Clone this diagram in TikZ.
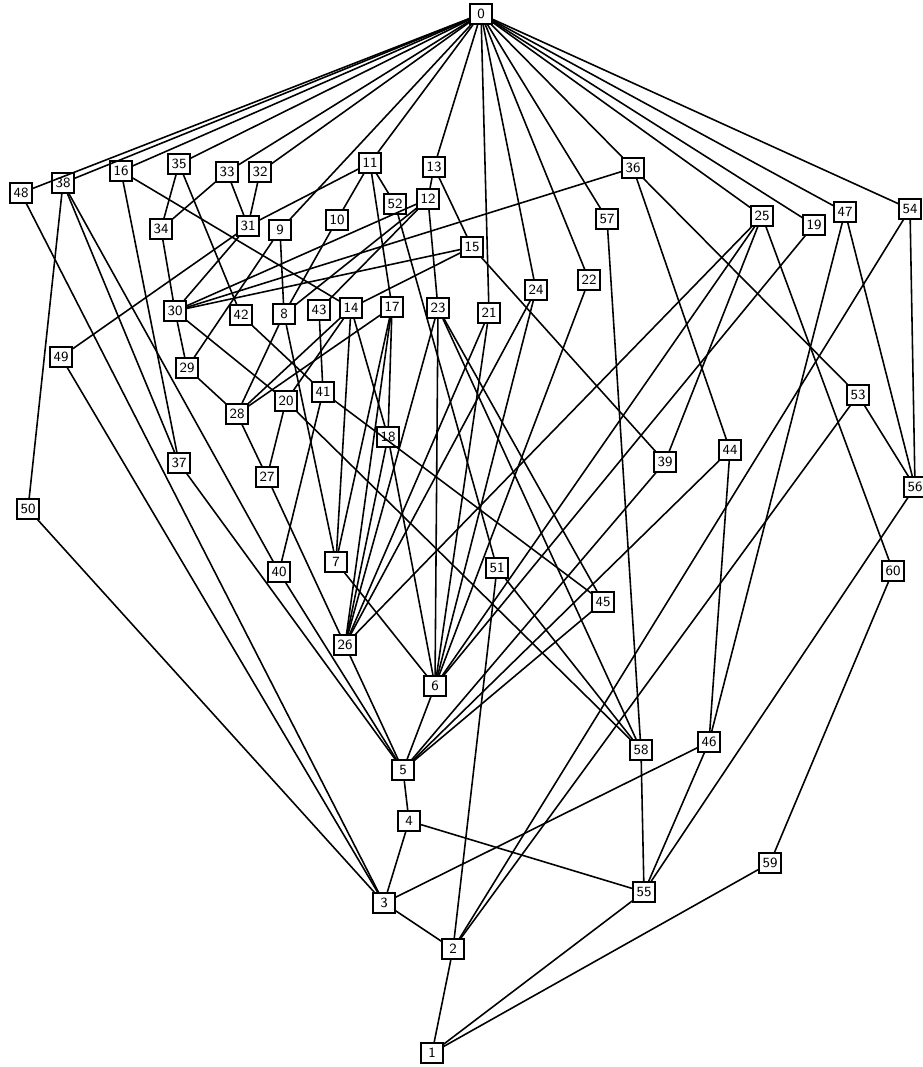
\documentclass[tikz,border=0pt]{standalone}
\usepackage{tikz}
\usetikzlibrary{positioning, arrows.meta}
\tikzset{
  elt/.style={draw, line width=1.1pt, fill=white, minimum width=0.43cm, minimum height=0.39cm,
    inner sep=1pt, font=\sffamily\footnotesize},
  cover/.style={line width=0.9pt},
}

\begin{document}
\begin{tikzpicture}[x=0.02cm, y=-0.02cm]
  \useasboundingbox (0,0) rectangle (922,1067);
  \foreach \n/\x/\y in {
      0/481/14,
      48/21/193, 38/63/183, 16/121/171, 35/179/164, 33/227/172, 32/260/172,
      11/370/163, 13/434/167, 12/428/199, 52/395/204, 36/633/168, 57/607/219,
      25/762/216, 19/814/225, 47/845/212, 54/910/209,
      34/161/229, 31/248/226, 9/280/230, 10/337/220, 15/472/247,
      24/536/290, 22/589/280, 21/489/313, 23/438/308, 17/392/307, 14/351/308,
      43/319/310, 8/284/314, 42/241/315, 30/175/311,
      49/61/357, 29/187/368, 28/237/414, 20/286/401, 41/323/392, 18/388/437,
      27/267/477, 37/179/463, 50/28/509, 39/665/462, 44/730/450, 53/858/395,
      56/915/487, 40/279/572, 7/336/562, 51/497/568, 45/603/602, 26/345/645,
      6/435/686, 60/893/571, 5/403/770, 58/641/750, 46/709/742,
      4/409/821, 3/384/903, 55/644/892, 59/770/863, 2/453/949, 1/432/1053}
    \node[elt] (e\n) at (\x,\y) {\n};
  % covering pairs, upper/lower
  \foreach \a/\b in {
      0/48, 0/38, 0/16, 0/35, 0/33, 0/32, 0/9, 0/11, 0/13, 0/21, 0/24, 0/22,
      0/57, 0/36, 0/25, 0/19, 0/47, 0/54,
      48/3, 38/50, 38/37, 38/40, 16/37, 16/14, 35/34, 35/42, 33/34, 33/31,
      32/31, 34/30, 31/30, 31/49, 9/29, 9/8, 11/10, 11/17, 11/52, 11/31,
      13/12, 13/15, 12/23, 12/30, 12/8, 12/43, 52/51, 10/8, 15/14, 15/39, 15/30,
      36/30, 36/44, 36/53, 57/58, 25/60, 25/26, 25/6, 25/39, 19/6,
      47/46, 47/56, 54/56, 54/2, 22/6, 24/26, 24/6, 21/6, 21/26,
      23/6, 23/26, 23/58, 23/45, 17/18, 17/28, 17/7, 17/26, 14/18, 14/7, 14/20, 14/28,
      43/41, 8/28, 8/7, 42/41, 30/29, 30/20, 49/3, 29/28, 28/27,
      20/27, 20/58, 41/40, 41/45, 18/26, 18/6, 27/26, 37/5, 50/3, 40/5,
      7/6, 26/5, 51/58, 51/2, 45/5, 39/5, 44/46, 44/5, 53/56, 53/2,
      56/55, 60/59, 58/55, 46/3, 46/55, 6/5, 5/4, 4/3, 4/55, 3/2,
      2/1, 55/1, 59/1}
    \draw[cover] (e\a) -- (e\b);
\end{tikzpicture}
\end{document}
